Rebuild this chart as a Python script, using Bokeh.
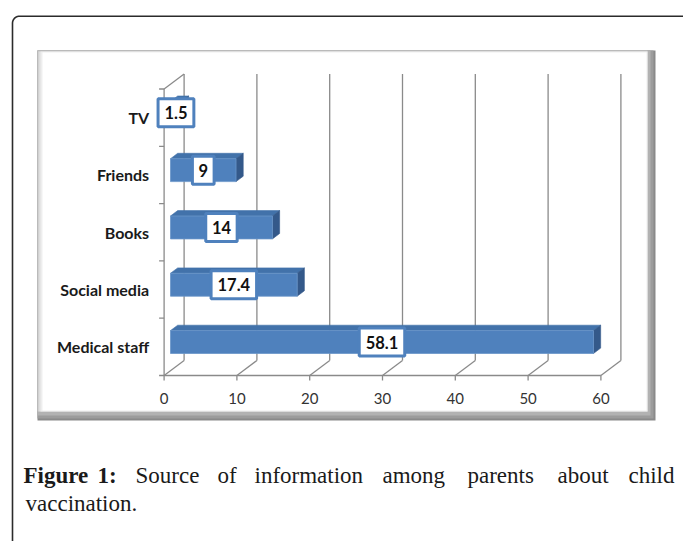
import numpy as np
from bokeh.plotting import figure
from bokeh.models import Range1d
from bokeh.embed import file_html
from bokeh.resources import INLINE
from bokeh.core.properties import value

# ---------------- data ----------------
categories = ["Medical staff", "Social media", "Books", "Friends", "TV"]   # bottom -> top
percent = [58.1, 17.4, 14, 9, 1.5]
x_ticks = [0, 10, 20, 30, 40, 50, 60]
caption_line1 = ["Figure", "1:", "Source", "of", "information", "among", "parents", "about", "child"]
caption_bold = [True, True, False, False, False, False, False, False, False]
caption_line2 = "vaccination."

# ---------------- layout (page pixels) ----------------
FIG_W, FIG_H = 683, 541
PAGE = 0
ORIGIN_X = 163.6     # value 0 on the front plane
FLOOR_Y = 375.0      # front floor line
PPU = 7.28           # pixels per value unit
BAND = 57.3          # pixels per category
DEPTH = (20.0, 15.0) # 3D depth offset (right, up)
F1, F2 = 0.32, 0.68  # bar depth (front / back fraction)
BAR_H = 0.40         # bar thickness as fraction of category band


def X(px):
    return (px - ORIGIN_X) / PPU


def Y(py):
    return (FLOOR_Y - py) / BAND


def dX(px):
    return px / PPU


def dY(px):
    return px / BAND


DDX, DDY = dX(DEPTH[0]), dY(DEPTH[1])

p = figure(width=FIG_W, height=FIG_H,
           x_range=Range1d(X(PAGE), X(PAGE + FIG_W)),
           y_range=Range1d(Y(PAGE + FIG_H), Y(PAGE)),
           output_backend="svg", toolbar_location=None,
           x_axis_location=None, y_axis_location=None,
           min_border=0, outline_line_color=None,
           background_fill_color="white", border_fill_color="white")
p.grid.visible = False

# ---------------- outer rounded frame ----------------
r = 7.0
L0, T0 = 12.0, 15.7
ang = np.linspace(np.pi, 1.5 * np.pi, 12)
arc_x = (L0 + r) + r * np.cos(ang)
arc_y = (T0 + r) + r * np.sin(ang)
fx = np.concatenate([[L0], arc_x, [720.0]])
fy = np.concatenate([[580.0], arc_y, [T0]])
p.line([X(v) for v in fx], [Y(v) for v in fy], line_color="#2b2b2b", line_width=1.6)

# ---------------- chart area bevel box ----------------
BL, BT, BR, BB = 37.0, 50.0, 655.0, 420.0
bevel = [
    (BL, BR, BT, BB, "#8a8a8a"),
    (BL, BR - 2, BT, BB - 2, "#9c9c9c"),
    (BL, BR - 5, BT, BB - 5, "#b2b2b2"),
    (BL, BR - 8, BT, BB - 9, "#c4c4c4"),
    (BL + 1, BR - 8, BT + 1, BB - 9, "#dedede"),
    (BL + 3, BR - 8, BT + 1, BB - 9, "#eeeeee"),
    (BL + 5, BR - 9, BT + 2, BB - 10, "#ffffff"),
]
for l, rr, t, b, c in bevel:
    p.quad(left=X(l), right=X(rr), top=Y(t), bottom=Y(b), fill_color=c, line_color=None)

GRID = "#8a8a8a"
ncat = len(categories)
# back wall gridlines
p.segment(x0=[t + DDX for t in x_ticks], y0=[DDY] * len(x_ticks),
          x1=[t + DDX for t in x_ticks], y1=[ncat + DDY] * len(x_ticks),
          line_color=GRID, line_width=1.3)
# floor diagonals
p.segment(x0=x_ticks, y0=[0] * len(x_ticks),
          x1=[t + DDX for t in x_ticks], y1=[DDY] * len(x_ticks),
          line_color=GRID, line_width=1.3)
# front floor line + ticks
p.segment(x0=[x_ticks[0]], y0=[0], x1=[x_ticks[-1]], y1=[0], line_color=GRID, line_width=1.3)
p.segment(x0=x_ticks, y0=[0] * len(x_ticks), x1=x_ticks, y1=[-dY(5)] * len(x_ticks),
          line_color=GRID, line_width=1.3)
# left wall: front axis, top slant, category ticks
p.segment(x0=[0, 0], y0=[0, ncat], x1=[0, DDX], y1=[ncat, ncat + DDY],
          line_color=GRID, line_width=1.3)
p.segment(x0=[-dX(5)] * (ncat + 1), y0=list(range(ncat + 1)),
          x1=[0] * (ncat + 1), y1=list(range(ncat + 1)), line_color=GRID, line_width=1.3)

# ---------------- 3D bars ----------------
front_xs, front_ys, top_xs, top_ys, side_xs, side_ys = [], [], [], [], [], []
for i, v in enumerate(percent):
    c = i + 0.5
    lo, hi = c - BAR_H / 2, c + BAR_H / 2
    ax1, ay1 = F1 * DDX, F1 * DDY
    ax2, ay2 = F2 * DDX, F2 * DDY
    front_xs.append([ax1, v + ax1, v + ax1, ax1])
    front_ys.append([lo + ay1, lo + ay1, hi + ay1, hi + ay1])
    top_xs.append([ax1, v + ax1, v + ax2, ax2])
    top_ys.append([hi + ay1, hi + ay1, hi + ay2, hi + ay2])
    side_xs.append([v + ax1, v + ax2, v + ax2, v + ax1])
    side_ys.append([lo + ay1, lo + ay2, hi + ay2, hi + ay1])

p.patches(top_xs, top_ys, fill_color="#4272aa", line_color="#4272aa", line_width=0.6)
p.patches(side_xs, side_ys, fill_color="#34598a", line_color="#34598a", line_width=0.6)
p.patches(front_xs, front_ys, fill_color="#4f81bd", line_color="#6a95c9", line_width=0.8)

# ---------------- data labels ----------------
labels = [f"{v:g}" for v in percent]
lab_x = [v / 2 + F1 * DDX for v in percent]
lab_y = [i + 0.5 + F1 * DDY for i in range(len(percent))]
lab_w = [sum(4.4 if ch == "." else 9.7 for ch in s) + 12 for s in labels]
p.rect(x=lab_x, y=lab_y, width=lab_w, height=[28] * len(labels),
       width_units="screen", height_units="screen",
       fill_color="white", line_color="#4f81bd", line_width=3)
p.text(x=lab_x, y=lab_y, text=labels, text_align="center", text_baseline="middle",
       text_font=value("Lato"), text_font_style="bold", text_font_size="16.5px",
       text_color="#111111")

# ---------------- axis labels ----------------
p.text(x=[-dX(15)] * ncat, y=[i + 0.5 for i in range(ncat)], text=categories,
       text_align="right", text_baseline="middle",
       text_font=value("Lato"), text_font_style="bold", text_font_size="16px",
       text_color="#1a1a1a")
p.text(x=x_ticks, y=[-dY(23)] * len(x_ticks), text=[str(t) for t in x_ticks],
       text_align="center", text_baseline="middle",
       text_font=value("Lato"), text_font_size="15px", text_color="#333333")

# ---------------- caption ----------------
word_left = [23, 97, 135, 217, 254, 382, 467, 557, 628]
for w, b, xl in zip(caption_line1, caption_bold, word_left):
    p.text(x=[X(xl)], y=[Y(475)], text=[w], text_align="left", text_baseline="alphabetic",
           text_font=value("Liberation Serif"), text_font_size="23px",
           text_font_style="bold" if b else "normal", text_color="#1a1a1a")
p.text(x=[X(25)], y=[Y(503)], text=[caption_line2], text_align="left",
       text_baseline="alphabetic", text_font=value("Liberation Serif"),
       text_font_size="23px", text_color="#1a1a1a")

open("out.html", "w").write(file_html(p, INLINE))
